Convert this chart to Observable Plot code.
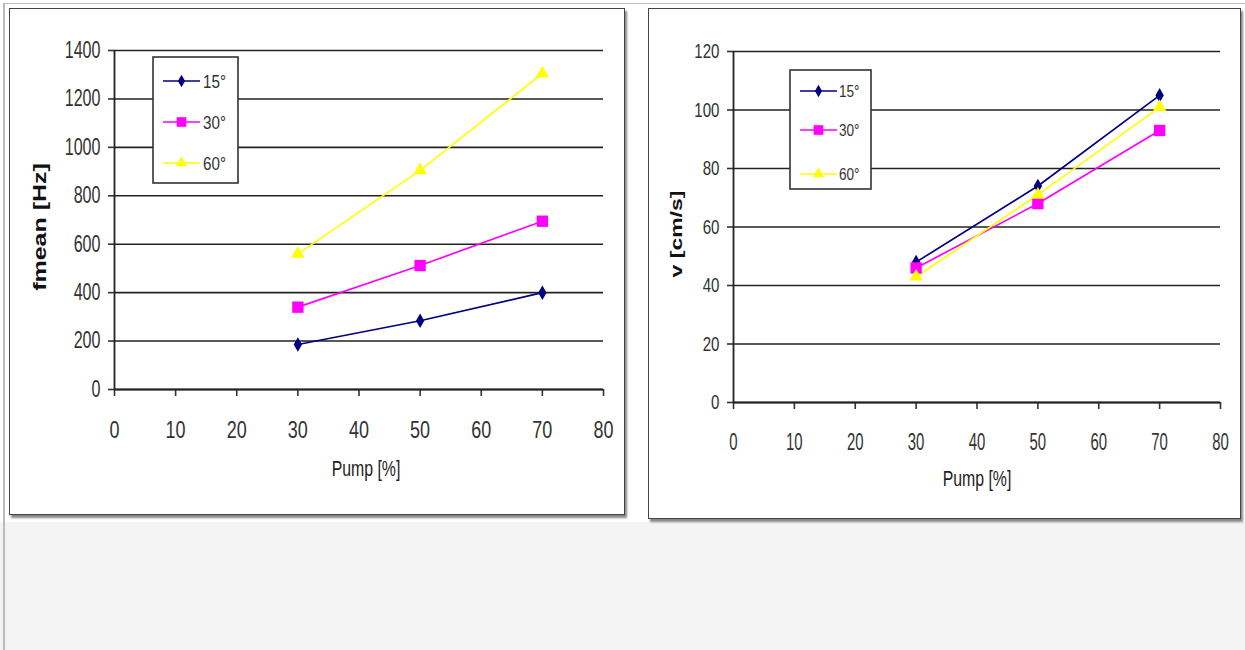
<!DOCTYPE html>
<html><head><meta charset="utf-8">
<script src="https://cdn.jsdelivr.net/npm/d3@7"></script>
<script src="https://cdn.jsdelivr.net/npm/@observablehq/plot@0.6"></script>
<style>
body{margin:0;width:1245px;height:650px;position:relative;background:#fff;overflow:hidden;font-family:"Liberation Sans",Arial,sans-serif}
#bg{position:absolute;left:0;top:522px;width:1245px;height:128px;background:#f4f4f4}
#topline{position:absolute;left:4px;top:3px;width:1241px;height:1px;background:#bbb}
#leftline{position:absolute;left:3px;top:3px;width:2px;height:647px;background:#bbb}
.box{position:absolute;box-sizing:border-box;border:1.5px solid #444;box-shadow:2px 3px 2px #888;background:#fff}
.chart{position:absolute}
.chart svg{overflow:visible}
</style></head><body>
<div id="bg"></div><div id="topline"></div><div id="leftline"></div>
<div class="box" style="left:9px;top:8px;width:616px;height:507px"></div>
<div class="box" style="left:648px;top:8px;width:593px;height:511px"></div>
<div class="chart" id="c1" style="left:10px;top:9px"></div>
<div class="chart" id="c2" style="left:648px;top:9px"></div>
<script>
// ---- data ----
const pump = [30, 50, 70];
const seriesNames = ["15°", "30°", "60°"];
const freq15 = [186, 284, 400];
const freq30 = [340, 512, 695];
const freq60 = [560, 905, 1305];
const vel15 = [48, 74, 105];
const vel30 = [46, 68, 93];
const vel60 = [43, 71, 101];
const xTicks = [0, 10, 20, 30, 40, 50, 60, 70, 80];
const fTicks = [0, 200, 400, 600, 800, 1000, 1200, 1400];
const vTicks = [0, 20, 40, 60, 80, 100, 120];
const colors = ["#000080", "#ff00ff", "#ffff00"];
const symbols = ["diamond", "square", "triangle"];
const radii = [4.4, 6.4, 5.0];

function rows(vals) {
  return vals.flatMap((arr, s) => arr.map((v, i) => ({series: seriesNames[s], pump: pump[i], v})));
}

function makeChart(cfg) {
  const data = rows(cfg.values);
  const marks = [
    Plot.gridY(cfg.yTicks, {stroke: "#222", strokeOpacity: 1, strokeWidth: 1.6}),
    Plot.axisY(cfg.yTicks, {tickSize: 6, tickPadding: 8, label: null, tickFormat: d => String(d), fontSize: cfg.yFont, strokeWidth: 1.6}),
    Plot.axisX(xTicks, {tickSize: 7, tickPadding: cfg.xPad, label: null, tickFormat: d => String(d), fontSize: cfg.xFont, strokeWidth: 1.6}),
    Plot.ruleX([0], {stroke: "#222", strokeWidth: 1.8}),
    Plot.ruleY([0], {stroke: "#222", strokeWidth: 1.8})
  ];
  seriesNames.forEach((name, s) => {
    const d = data.filter(r => r.series === name);
    marks.push(Plot.line(d, {x: "pump", y: "v", stroke: colors[s], strokeWidth: 1.7}));
  });
  seriesNames.forEach((name, s) => {
    const d = data.filter(r => r.series === name);
    marks.push(Plot.dot(d, {x: "pump", y: "v", symbol: symbols[s], r: radii[s], fill: colors[s], stroke: "none"}));
  });
  const svg = Plot.plot({
    width: cfg.width, height: cfg.height,
    marginLeft: cfg.ml, marginRight: cfg.mr, marginTop: cfg.mt, marginBottom: cfg.mb,
    x: {domain: [0, 80]},
    y: {domain: cfg.yDomain},
    style: {fontFamily: "Liberation Sans, Arial, sans-serif", color: "#333", background: "transparent", overflow: "visible"},
    marks
  });
  const S = d3.select(svg);
  // compress tick label glyphs horizontally like the reference
  S.selectAll('g[aria-label="y-axis tick label"] text').attr("transform", function() {
    return (this.getAttribute("transform") || "") + ` scale(${cfg.ySx},1)`;
  });
  S.selectAll('g[aria-label="x-axis tick label"] text').attr("transform", function() {
    return (this.getAttribute("transform") || "") + ` scale(${cfg.xSx},1)`;
  });
  // axis titles
  S.append("text").text(cfg.yLabel)
    .attr("transform", `translate(${cfg.yLab[0]},${cfg.yLab[1]}) rotate(-90) scale(1,0.72)`)
    .attr("text-anchor", "middle").attr("dominant-baseline", "central")
    .attr("font-weight", "bold").attr("font-size", cfg.yLabFont).attr("fill", "#111");
  S.append("text").text("Pump [%]")
    .attr("transform", `translate(${cfg.xLab[0]},${cfg.xLab[1]}) scale(0.72,1)`)
    .attr("text-anchor", "middle").attr("dominant-baseline", "central")
    .attr("font-size", 22).attr("fill", "#222");
  // legend
  const L = cfg.legend;
  const g = S.append("g");
  g.append("rect").attr("x", L.x).attr("y", L.y).attr("width", L.w).attr("height", L.h)
    .attr("fill", "#fff").attr("stroke", "#333").attr("stroke-width", 1.6);
  seriesNames.forEach((name, s) => {
    const yy = L.rows[s];
    g.append("line").attr("x1", L.l1).attr("x2", L.l2).attr("y1", yy).attr("y2", yy)
      .attr("stroke", colors[s]).attr("stroke-width", 1.7);
    const sym = {diamond: d3.symbolDiamond, square: d3.symbolSquare, triangle: d3.symbolTriangle}[symbols[s]];
    const rr = radii[s] * 0.85;
    g.append("path").attr("d", d3.symbol(sym, Math.PI * rr * rr)())
      .attr("transform", `translate(${(L.l1 + L.l2) / 2},${yy})`).attr("fill", colors[s]);
    g.append("text").text(name)
      .attr("transform", `translate(${L.tx},${yy}) scale(${L.sx},1)`)
      .attr("text-anchor", "start")
      .attr("dominant-baseline", "central").attr("font-size", L.font).attr("fill", "#333");
  });
  return svg;
}

document.getElementById("c1").appendChild(makeChart({
  values: [freq15, freq30, freq60], yTicks: fTicks, yDomain: [0, 1400],
  width: 615, height: 505, ml: 104, mr: 22, mt: 41, mb: 125,
  yFont: 23, ySx: 0.7, xFont: 24, xSx: 0.75, xPad: 24,
  yLabel: "fmean [Hz]", yLab: [30, 218], yLabFont: 25,
  xLab: [356, 460],
  legend: {x: 143, y: 48, w: 85, h: 126, rows: [72, 113, 154], l1: 153, l2: 190, tx: 193, font: 19, sx: 0.8}
}));

document.getElementById("c2").appendChild(makeChart({
  values: [vel15, vel30, vel60], yTicks: vTicks, yDomain: [0, 120],
  width: 592, height: 509, ml: 85, mr: 20, mt: 42, mb: 116,
  yFont: 21, ySx: 0.72, xFont: 23, xSx: 0.65, xPad: 24,
  yLabel: "v [cm/s]", yLab: [28, 225], yLabFont: 23,
  xLab: [329, 470],
  legend: {x: 142, y: 61, w: 81, h: 119, rows: [82, 121, 165], l1: 152, l2: 189, tx: 191, font: 17, sx: 0.8}
}));
</script>
</body></html>
